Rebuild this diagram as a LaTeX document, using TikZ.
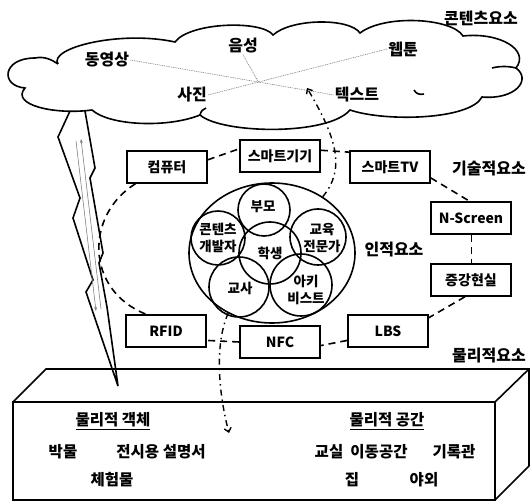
\documentclass[tikz,border=0pt]{standalone}
\usepackage{fontspec}
\setmainfont{Noto Sans CJK KR}
\usetikzlibrary{shapes.geometric,arrows.meta,intersections,calc}
\begin{document}
\begin{tikzpicture}[x=1pt,y=-1pt,
  every node/.style={font=\bfseries},
  thick line/.style={line width=1.6pt},
  techbox/.style={draw,line width=1.6pt,minimum width=80pt,minimum height=32pt,inner sep=0pt,font=\bfseries\fontsize{14}{15}\selectfont},
  techlink/.style={line width=1.6pt,dash pattern=on 7pt off 5pt},
  dashdot/.style={line width=1.4pt,dash pattern=on 6pt off 4pt on 1.5pt off 4pt},
  person/.style={draw,circle,line width=1.6pt,inner sep=0pt},
  ptxt/.style={inner sep=0pt,align=center,font=\bfseries\fontsize{13.5}{16.5}\selectfont},
  elabel/.style={font=\bfseries\fontsize{16}{18}\selectfont,inner sep=0pt},
  ctext/.style={font=\bfseries\fontsize{16}{18}\selectfont,inner sep=1pt},
  ptext/.style={font=\bfseries\fontsize{15.5}{17}\selectfont,inner sep=0pt},
  graylink/.style={gray,line width=0.6pt,dash pattern=on 1pt off 0.8pt},
]
\useasboundingbox (0,0) rectangle (530,502);

% ---------- cloud ----------
\draw[thick line] (58,64) .. controls (48,48) and (120,30) .. (175,42)
 .. controls (190,22) and (262,20) .. (273,35)
 .. controls (292,18) and (350,18) .. (360,33)
 .. controls (385,14) and (452,18) .. (463,36)
 .. controls (500,32) and (530,50) .. (516,68)
 .. controls (532,80) and (515,100) .. (482,97)
 .. controls (470,120) and (385,122) .. (350,110)
 .. controls (328,136) and (222,134) .. (200,115)
 .. controls (168,128) and (110,126) .. (92,110)
 .. controls (55,115) and (10,105) .. (25,88)
 .. controls (0,86) and (2,58) .. (35,58)
 .. controls (45,56) and (52,60) .. (58,64);
\draw[thick line] (200,115) .. controls (201,111) and (203,109) .. (206,108);
\draw[thick line] (414,90) .. controls (416,94) and (420,95) .. (424,94);
\draw[thick line] (516,68) .. controls (508,66) and (500,66) .. (492,68);

\node[ctext] (video) at (107,60) {동영상};
\node[ctext] (voice) at (243,46) {음성};
\node[ctext] (webtoon) at (403,49) {웹툰};
\node[ctext] (photo) at (192,95) {사진};
\node[ctext] (text) at (357,95) {텍스트};
\path[name path=la] (video.east) -- (text.west);
\path[name path=lb] (webtoon.west) -- (photo.east);
\draw[graylink] (video.east) -- (text.west);
\draw[graylink] (webtoon.west) -- (photo.east);
\path[name intersections={of=la and lb,by=cross}];
\draw[graylink] (voice.south) -- (cross);
\node[elabel] (contentlbl) at (481,18) {콘텐츠요소};

% ---------- lightning bolt ----------
\draw[thick line,line join=miter] (70,111) -- (58,137) -- (80,198) -- (73,218) -- (93,280) -- (86,292)
  -- (118,386) -- (107,307) -- (99,263) -- (103,253) -- (90,178) -- (95,168) -- (85,111);
\draw[gray,line width=0.6pt,-{Stealth[length=4pt,width=3pt]}] (76,141) -- (96,311);
\draw[gray,line width=0.6pt,-{Stealth[length=4pt,width=3pt]}] (101,309) -- (81,139);

% ---------- technology boxes ----------
\node[techbox] (comp) at (167,167) {컴퓨터};
\node[techbox] (sdev) at (280,156) {스마트기기};
\node[techbox] (stv) at (390,167) {스마트TV};
\node[techbox] (nscr) at (471,218) {N-Screen};
\node[techbox] (ar) at (471,280) {증강현실};
\node[techbox] (lbs) at (388,331) {LBS};
\node[techbox] (nfc) at (280,342) {NFC};
\node[techbox] (rfid) at (166,331) {RFID};

\draw[techlink] (comp.10) -- (sdev.170);
\draw[techlink] (sdev.8) -- (stv.160);
\draw[techlink] (stv.-15) -- (nscr.95);
\draw[techlink] (nscr.272) -- (ar.88);
\draw[techlink] (ar.250) -- (lbs.18);
\draw[techlink] (lbs.193) -- (nfc.355);
\draw[techlink] (nfc.180) -- (rfid.347);
\draw[techlink] (comp.208) .. controls (85,215) and (85,290) .. (rfid.140);
\node[elabel] (techlbl) at (489,169) {기술적요소};

% ---------- human elements ----------
\node[draw,ellipse,line width=1.6pt,minimum width=166pt,minimum height=140pt,inner sep=0pt] (human) at (272,253) {};
\node[person,minimum size=52pt] (parent) at (264,210) {};
\node[person,minimum size=54pt] (cdev) at (218,238) {};
\node[person,minimum size=56pt] (edu) at (318,237) {};
\node[person,minimum size=60pt] (teacher) at (239,287) {};
\node[person,minimum size=62pt] (archivist) at (301,285) {};
\node[person,minimum size=62pt] (student) at (270,253) {};
\node[ptxt] (parentlbl) at (263,207) {부모};
\node[ptxt] (cdevlbl) at (218,238) {콘텐츠\\개발자};
\node[ptxt] (edulbl) at (322,238) {교육\\전문가};
\node[ptxt] (studentlbl) at (270,253) {학생};
\node[ptxt] (teacherlbl) at (240,288) {교사};
\node[ptxt] (archlbl) at (306,290) {아키\\비스트};
\node[elabel] (humanlbl) at (394,250) {인적요소};

% ---------- dash-dot arrows ----------
\coordinate (uptip) at (307,88);
\coordinate (downtip) at (229,433);
\draw[dashdot,-{Straight Barb[length=4pt,width=7pt]}] (human.48) .. controls (345,170) and (338,140) .. (uptip);
\draw[dashdot,-{Straight Barb[length=4pt,width=7pt]}] (human.234) .. controls (214,345) and (219,395) .. (downtip);

% ---------- physical box ----------
\draw[thick line,line join=miter] (13,500) -- (13,402) -- (495,402) -- (495,500) -- cycle;
\draw[thick line,line join=miter] (13,402) -- (46,369) -- (529,369) -- (495,402);
\draw[thick line,line join=miter] (529,369) -- (529,466) -- (495,500);
\node[elabel] (physlbl) at (489,356) {물리적요소};

\node[ptext] (objhead) at (113,421) {\underline{물리적 객체}};
\node[ptext] (o1) at (63,452) {박물};
\node[ptext] (o2) at (161,452) {전시용 설명서};
\node[ptext] (o3) at (112,480) {체험물};
\node[ptext] (sphead) at (387,421) {\underline{물리적 공간}};
\node[ptext] (s1) at (329,452) {교실};
\node[ptext] (s2) at (379,452) {이동공간};
\node[ptext] (s3) at (454,452) {기록관};
\node[ptext] (s4) at (352,480) {집};
\node[ptext] (s5) at (424,480) {야외};
\end{tikzpicture}
\end{document}
